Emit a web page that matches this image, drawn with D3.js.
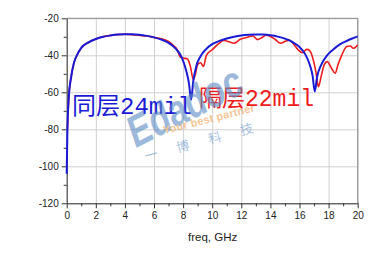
<!DOCTYPE html>
<html>
<head>
<meta charset="utf-8">
<script src="https://cdn.jsdelivr.net/npm/d3@7"></script>
<style>
  body { margin: 0; background: #fff; }
  svg { display: block; }
  .tick text { font-family: "Liberation Sans", Arial, sans-serif; font-size: 10px; fill: #222; }
</style>
</head>
<body>
<div id="chart"></div>
<script>
// blue: same-layer 24mil (freq GHz, dB)
var blueFreq = [0, 0.05, 0.15, 0.3, 0.5, 0.7, 1.0, 1.5, 2.0, 2.5, 3.0, 3.5, 4.0, 4.5, 5.0, 5.5, 6.0, 6.5, 7.0, 7.5, 7.9, 8.2, 8.4, 8.55,
                8.7, 8.9, 9.2, 9.6, 10.0, 10.5, 11.0, 11.5, 12.0, 12.5, 13.0, 13.5, 14.0, 14.5, 15.0, 15.5, 16.0, 16.4, 16.7, 16.9, 17.05,
                17.2, 17.5, 17.9, 18.3, 18.8, 19.3, 19.7, 20.0];
var blueDb = [-104, -80, -62, -52, -44, -40, -36, -33, -31.2, -30, -29.3, -28.8, -28.6, -28.6, -28.9, -29.5, -30.3, -31.5, -33.3, -36.5, -41, -48, -55, -64,
              -54, -46, -40.5, -36.5, -34, -32.2, -30.9, -30, -29.3, -28.9, -28.7, -28.8, -29.2, -29.9, -31, -32.8, -35.5, -39.5, -45, -51, -59.6,
              -52, -45, -40, -37, -34, -32, -30.7, -29.8];

// red: different-layer 22mil
var redFreq = [0.05, 0.15, 0.3, 0.5, 0.7, 1.0, 1.5, 2.0, 2.5, 3.0, 3.5, 4.0, 4.5, 5.0, 5.5, 6.0, 6.5, 7.0, 7.3, 7.6, 7.8, 8.0, 8.3, 8.5,
               8.7, 8.85, 9.0, 9.2, 9.4, 9.6, 10.0, 10.4, 10.8, 11.2, 11.5, 11.9, 12.3, 12.8, 13.1, 13.4, 13.7, 14.0, 14.3, 14.7, 15.0,
               15.3, 15.6, 15.9, 16.2, 16.5, 16.7, 16.95, 17.15, 17.3, 17.5, 17.7, 17.9, 18.2, 18.45, 18.65, 18.9, 19.25, 19.5, 19.7, 20.0];
var redDb = [-80, -62, -52, -44, -40, -36, -33, -31.2, -30, -29.3, -28.8, -28.6, -28.8, -29.3, -29.6, -30.3, -31, -32.5, -34.5, -37, -41, -41.5, -42, -46,
             -53, -50, -45, -44, -46, -40, -37, -34, -32, -32.8, -33.5, -31.5, -30.5, -29.6, -31.5, -30.5, -29.2, -29.8, -31.2, -33.5, -32.5,
             -31.8, -34, -37, -38.6, -36.8, -37.5, -42.6, -50, -57, -51, -45, -43.4, -47, -49.7, -45, -40, -35.3, -35, -36.2, -34.4];

var xTicks = [0, 2, 4, 6, 8, 10, 12, 14, 16, 18, 20];
var yTicks = [-20, -40, -60, -80, -100, -120];
var labelBlue = "同层24mil";
var labelRed = "隔层22mil";
var xTitle = "freq, GHz";

var width = 379, height = 253;
var margin = {top: 18.3, right: 21.3, bottom: 49.7, left: 66.7};

var svg = d3.select('#chart')
    .append('svg')
    .attr('width', width)
    .attr('height', height);

var x = d3.scaleLinear().domain([0, 20]).range([margin.left, width - margin.right]);
var y = d3.scaleLinear().domain([-120, -20]).range([height - margin.bottom, margin.top]);

// grid
svg.append('g')
    .attr('transform', 'translate(0,' + y(-120) + ')')
    .call(d3.axisBottom(x).tickValues(xTicks).tickSize(-(y(-120) - y(-20))).tickFormat(''))
    .call(g => g.select('.domain').remove())
    .call(g => g.selectAll('line').attr('stroke', '#d0d0d0'));
svg.append('g')
    .attr('transform', 'translate(' + x(0) + ',0)')
    .call(d3.axisLeft(y).tickValues(yTicks).tickSize(-(x(20) - x(0))).tickFormat(''))
    .call(g => g.select('.domain').remove())
    .call(g => g.selectAll('line').attr('stroke', '#d0d0d0'));

// frame top / right
svg.append('path')
    .attr('d', 'M' + x(0) + ',' + y(-20) + 'H' + x(20) + 'V' + y(-120))
    .attr('fill', 'none')
    .attr('stroke', '#8a8a8a');

// minor ticks
svg.append('g')
    .attr('transform', 'translate(0,' + y(-120) + ')')
    .call(d3.axisBottom(x).tickValues(d3.range(1, 20, 2)).tickSize(3).tickFormat(''))
    .call(g => g.select('.domain').remove())
    .call(g => g.selectAll('line').attr('stroke', '#333'));
svg.append('g')
    .attr('transform', 'translate(' + x(0) + ',0)')
    .call(d3.axisLeft(y).tickValues(d3.range(-110, -20, 20)).tickSize(3).tickFormat(''))
    .call(g => g.select('.domain').remove())
    .call(g => g.selectAll('line').attr('stroke', '#333'));

// axes
var xAxis = svg.append('g')
    .attr('transform', 'translate(0,' + y(-120) + ')')
    .call(d3.axisBottom(x).tickValues(xTicks).tickSize(5).tickPadding(4).tickSizeOuter(0));
var yAxis = svg.append('g')
    .attr('transform', 'translate(' + x(0) + ',0)')
    .call(d3.axisLeft(y).tickValues(yTicks).tickSize(5).tickPadding(3).tickSizeOuter(0)
        .tickFormat(d => String(d)));
xAxis.selectAll('.domain, line').attr('stroke', '#333');
yAxis.selectAll('.domain, line').attr('stroke', '#333');

svg.append('text')
    .attr('x', 188)
    .attr('y', 241)
    .attr('font-family', 'Liberation Sans, Arial, sans-serif')
    .attr('font-size', 11.5)
    .attr('fill', '#222')
    .text(xTitle);

var line = d3.line()
    .x(d => x(d[0]))
    .y(d => y(d[1]))
    .curve(d3.curveMonotoneX);

svg.append('path')
    .datum(d3.zip(redFreq, redDb))
    .attr('d', line)
    .attr('fill', 'none')
    .attr('stroke', '#ee1c1c')
    .attr('stroke-width', 1.6);

svg.append('path')
    .datum(d3.zip(blueFreq, blueDb))
    .attr('d', line)
    .attr('fill', 'none')
    .attr('stroke', '#1a1ad6')
    .attr('stroke-width', 2);

// labels
svg.append('text')
    .attr('x', 72)
    .attr('y', 114)
    .attr('font-family', "'Liberation Mono', 'Noto Sans CJK SC', monospace")
    .attr('font-size', 24)
    .attr('fill', '#1a1ad6')
    .text(labelBlue);
svg.append('text')
    .attr('x', 199)
    .attr('y', 106)
    .attr('font-family', "'Liberation Mono', 'Noto Sans CJK SC', monospace")
    .attr('font-size', 23)
    .attr('fill', '#ee1c1c')
    .text(labelRed);

// watermark
var wm = svg.append('g').attr('opacity', 0.6);
wm.append('text')
    .attr('transform', 'translate(136,148) rotate(-27)')
    .attr('font-family', 'Liberation Sans, Arial, sans-serif')
    .attr('font-weight', 'bold')
    .attr('font-style', 'italic')
    .attr('font-size', 44)
    .attr('textLength', 124)
    .attr('lengthAdjust', 'spacingAndGlyphs')
    .attr('fill', '#5b8cc4')
    .text('Edadoc');
wm.append('text')
    .attr('transform', 'translate(164,134) rotate(-14)')
    .attr('font-family', 'Liberation Sans, Arial, sans-serif')
    .attr('font-weight', 'bold')
    .attr('font-size', 11)
    .attr('textLength', 94)
    .attr('fill', '#f0a050')
    .text('Your best partner');
wm.append('text')
    .attr('transform', 'translate(146,161) rotate(-15)')
    .attr('font-family', "'Noto Sans CJK SC', sans-serif")
    .attr('font-size', 13)
    .attr('textLength', 112)
    .attr('fill', '#6f9bd0')
    .text('一博科技');
</script>
</body>
</html>
